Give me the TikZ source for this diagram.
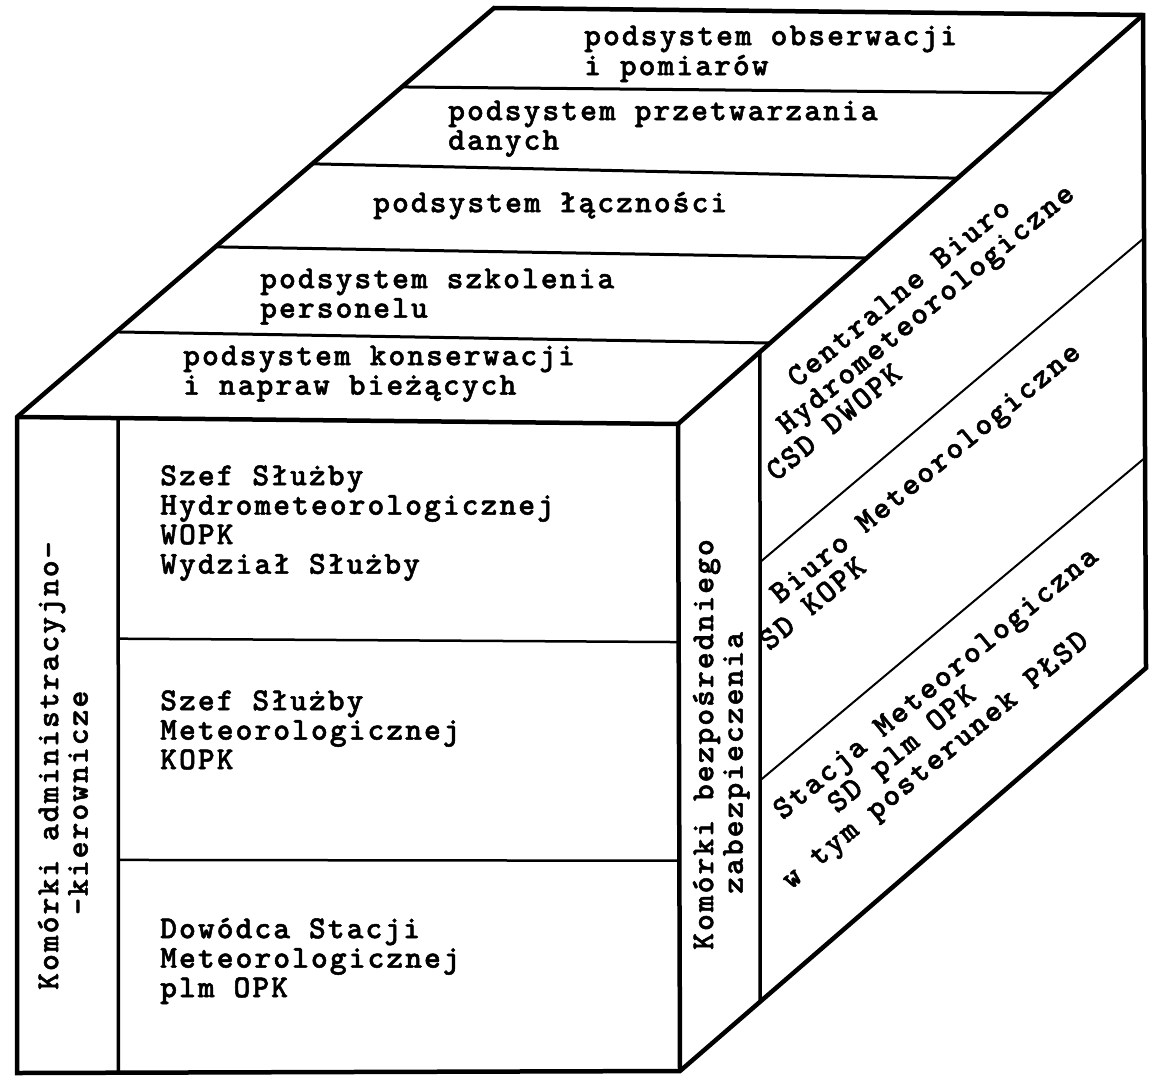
\documentclass[tikz,border=0pt]{standalone}
\usepackage{fontspec}
% heavy typewriter face, spaced to the pitch of the typed labels
\newfontfamily\typewriter{lmmonolt10-bold.otf}[LetterSpace=6.4, FakeBold=1.6]
\usetikzlibrary{calc}

% invisible strut fixing the height of the first text line
\newcommand{\lnstrut}{\rule{0pt}{24pt}}

\begin{document}
\begin{tikzpicture}[x=1pt,y=-1pt,
  edge/.style={line width=4.5pt},
  topdiv/.style={line width=3pt},
  frontdiv/.style={line width=2.5pt},
  sidediv/.style={line width=2pt},
  inner/.style={line width=3.5pt},
  txt/.style={font=\typewriter\fontsize{32}{29.5}\selectfont,
              inner sep=0pt, align=left, anchor=north west},
]
\fill[white] (0,0) rectangle (1150,1076);
\useasboundingbox (0,0) rectangle (1150,1076);

% corners of the block
\coordinate (B1) at (494,8);
\coordinate (B2) at (1143,15);
\coordinate (F1) at (17,417);
\coordinate (F2) at (678,424);
\coordinate (F3) at (680,1071);
\coordinate (F4) at (17,1073);
\coordinate (R3) at (1146,668);

% top face: strips of the subsystems
\draw[topdiv] ($(B1)!0.193!(F1)$) -- ($(B2)!0.191!(F2)$);
\draw[topdiv] ($(B1)!0.381!(F1)$) -- ($(B2)!0.399!(F2)$);
\draw[topdiv] ($(B1)!0.584!(F1)$) -- ($(B2)!0.594!(F2)$);
\draw[topdiv] ($(B1)!0.792!(F1)$) -- ($(B2)!0.802!(F2)$);

% front face: left column and three levels
\coordinate (V1) at ($(F1)!0.153!(F2)$);
\coordinate (V2) at ($(F4)!0.153!(F3)$);
\draw[inner] (V1) -- (V2);
\draw[frontdiv] ($(V1)!0.337!(V2)$) -- ($(F2)!0.337!(F3)$);
\draw[frontdiv] ($(V1)!0.675!(V2)$) -- ($(F2)!0.675!(F3)$);

% side face: front strip and three levels
\coordinate (S1) at ($(F2)!0.1763!(B2)$);
\coordinate (S2) at ($(F3)!0.1717!(R3)$);
\draw[inner] (S1) -- (S2);
\draw[sidediv] ($(S1)!0.3236!(S2)$) -- ($(B2)!0.3415!(R3)$);
\draw[sidediv] ($(S1)!0.6595!(S2)$) -- ($(B2)!0.678!(R3)$);

% outline of the block
\draw[edge] (F1) -- (B1) -- (B2) -- (R3) -- (F3) -- (F4) -- cycle;
\draw[edge] (F1) -- (F2) -- (B2);
\draw[edge] (F2) -- (F3);

% top face labels
\node[txt] (obs) at (584,21) {\lnstrut podsystem obserwacji\\[0.5pt] i pomiarów};
\node[txt] (prz) at (448,96) {\lnstrut podsystem przetwarzania\\ danych};
\node[txt] (lacz) at (373,188) {\lnstrut podsystem łączności};
\node[txt] (szk) at (260,264) {\lnstrut podsystem szkolenia\\ personelu};
\node[txt] (kons) at (183,341) {\lnstrut podsystem konserwacji\\ i napraw bieżących};

% front face labels
\node[txt] (whm) at (160,461) {\lnstrut Szef Służby\\ Hydrometeorologicznej\\ WOPK\\ Wydział Służby};
\node[txt] (kopk) at (160,686) {\lnstrut Szef Służby\\ Meteorologicznej\\ KOPK};
\node[txt] (opk) at (160,914) {\lnstrut Dowódca Stacji\\ Meteorologicznej\\ plm OPK};
\node[txt, rotate=90] (adm) at (34,990)
  {\lnstrut Komórki administracyjno-\\ \hspace*{75pt}-kierownicze};

% side face labels
\node[txt, rotate=90] (zab) at (689,950)
  {\lnstrut Komórki bezpośredniego\\ \hspace*{56pt}zabezpieczenia};
\node[txt, rotate=39.5] (cbh) at (723,418)
  {\lnstrut\hspace*{76pt}Centralne Biuro\\ \hspace*{38pt}Hydrometeorologiczne\\ CSD DWOPK};
\node[txt, rotate=39.5] (bm) at (735,610)
  {\lnstrut\hspace*{38pt}Biuro Meteorologiczne\\ SD KOPK};
\node[txt, rotate=39.5] (sm) at (738,826)
  {\lnstrut\hspace*{38pt}Stacja Meteorologiczna\\ \hspace*{84pt}SD plm OPK\\ w tym posterunek PŁSD};
\end{tikzpicture}
\end{document}
